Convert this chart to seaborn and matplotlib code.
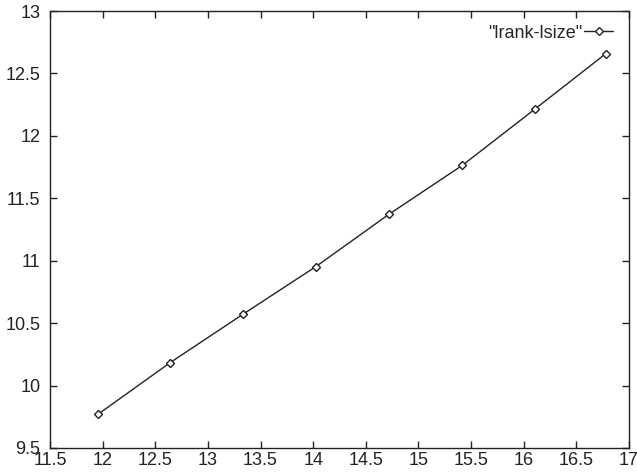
import matplotlib
matplotlib.use("Agg")
import matplotlib.pyplot as plt
import pandas as pd
import seaborn as sb

# values
lrank = [11.956, 12.640, 13.336, 14.024, 14.720, 15.417, 16.107, 16.779]
lsize = [9.770, 10.183, 10.573, 10.952, 11.372, 11.764, 12.215, 12.658]
xticks = [11.5, 12, 12.5, 13, 13.5, 14, 14.5, 15, 15.5, 16, 16.5, 17]
yticks = [9.5, 10, 10.5, 11, 11.5, 12, 12.5, 13]

df = pd.DataFrame({'lrank': lrank, 'lsize': lsize})

sb.set_style('ticks')
plt.rcParams['font.family'] = ['Liberation Sans', 'DejaVu Sans']

f = plt.figure(figsize=(6.37, 4.75), dpi=100)
ax = f.add_axes([50/637, 1-448/475, 579/637, 437/475])

sb.lineplot(x='lrank', y='lsize', data=df, ax=ax, color='#222222', linewidth=1.0,
            marker='D', markersize=4, markerfacecolor='white', markeredgecolor='#222222',
            markeredgewidth=1.0, label='"lrank-lsize"')

ax.set_xlim(11.5, 17)
ax.set_ylim(9.5, 13)
ax.set_xticks(xticks)
ax.set_yticks(yticks)
ax.set_xticklabels([f'{t:g}' for t in xticks])
ax.set_yticklabels([f'{t:g}' for t in yticks])
ax.set_xlabel('')
ax.set_ylabel('')
ax.tick_params(direction='in', length=5, width=1, top=True, right=True,
               labelsize=13, colors='#222222')
ax.tick_params(axis='x', pad=3)
ax.tick_params(axis='y', pad=7)
for s in ax.spines.values():
    s.set_linewidth(1.0)
    s.set_color('#222222')

ax.legend(loc='upper right', bbox_to_anchor=(0.985, 0.985), frameon=False,
          markerfirst=False, fontsize=13, handlelength=1.6, handletextpad=0.1,
          borderaxespad=0)

f.savefig('out.png', dpi=100)
